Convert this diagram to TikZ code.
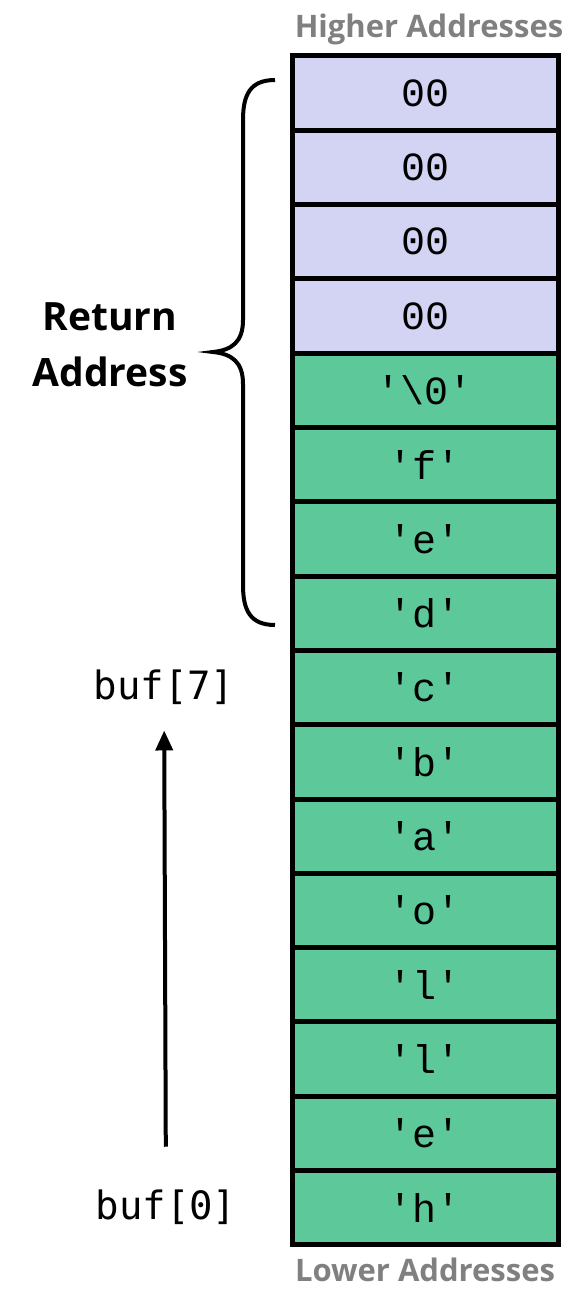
\documentclass[tikz,border=0pt]{standalone}
\usepackage{fontspec}
\setmainfont{Open Sans}
\setmonofont{Liberation Mono}
\newfontfamily\bufmono{DejaVu Sans Mono}
\usetikzlibrary{arrows.meta, positioning}
\definecolor{retaddr}{RGB}{211,211,243}
\definecolor{bufgreen}{RGB}{93,201,155}
\definecolor{addrgray}{RGB}{128,128,128}

\begin{document}
\begin{tikzpicture}[x=1pt, y=-1pt,
            cell/.style={draw, line width=5pt, outer sep=0pt, inner sep=0pt,
                minimum width=266pt, minimum height=74.3pt,
                font=\ttfamily\fontsize{40}{40}\selectfont},
            ret cell/.style={cell, fill=retaddr},
            buf cell/.style={cell, fill=bufgreen},
            addr label/.style={text=addrgray, font=\bfseries\fontsize{31}{31}\selectfont},
            buf label/.style={font=\bufmono\fontsize{39}{39}\selectfont}]
            \useasboundingbox (0,0) rectangle (587,1290);

            \node[ret cell] (m15) at (425,93.15) {00};
            \node[ret cell, below=0pt of m15] (m14) {00};
            \node[ret cell, below=0pt of m14] (m13) {00};
            \node[ret cell, below=0pt of m13] (m12) {00};
            \node[buf cell, below=0pt of m12] (m11) {'\textbackslash0'};
            \node[buf cell, below=0pt of m11] (m10) {'f'};
            \node[buf cell, below=0pt of m10] (m9) {'e'};
            \node[buf cell, below=0pt of m9] (m8) {'d'};
            \node[buf cell, below=0pt of m8] (m7) {'c'};
            \node[buf cell, below=0pt of m7] (m6) {'b'};
            \node[buf cell, below=0pt of m6] (m5) {'a'};
            \node[buf cell, below=0pt of m5] (m4) {'o'};
            \node[buf cell, below=0pt of m4] (m3) {'l'};
            \node[buf cell, below=0pt of m3] (m2) {'l'};
            \node[buf cell, below=0pt of m2] (m1) {'e'};
            \node[buf cell, below=0pt of m1] (m0) {'h'};

            \node[addr label, above=8pt of m15, xshift=4pt] (high) {Higher Addresses};
            \node[addr label, below=10pt of m0] (low) {Lower Addresses};

            \node[buf label, left=54pt of m7] (buf7) {buf[7]};
            \node[buf label, left=52pt of m0] (buf0) {buf[0]};
            \draw[line width=4pt, -{Triangle[length=20pt, width=17pt]},
                shorten <=40pt, shorten >=22pt] (buf0) -- (buf7);

            % brace round the return address
            \coordinate (btop) at (275,80);
            \coordinate (btip) at (213,352);
            \coordinate (bbot) at (275,625);
            \draw[line width=4pt] (btop) .. controls (250,80) and (243,95) .. (243,120)
                -- (243,320) .. controls (243,342) and (232,350) .. (btip)
                .. controls (232,354) and (243,362) .. (243,384)
                -- (243,585) .. controls (243,610) and (250,625) .. (bbot);
            \node[left=22pt of btip, yshift=7pt, align=center, font=\bfseries\fontsize{39}{56}\selectfont] (ret) {Return\\Address};
\end{tikzpicture}
\end{document}
